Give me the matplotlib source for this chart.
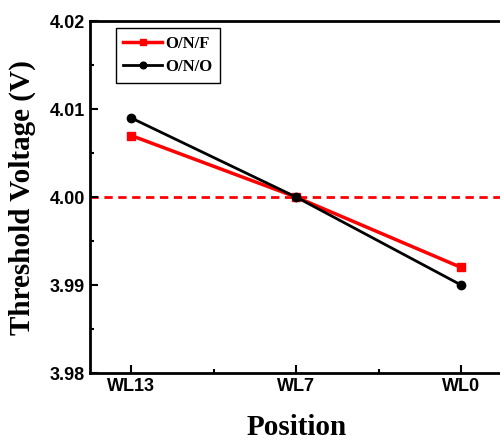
import matplotlib
matplotlib.use("Agg")
import matplotlib.pyplot as plt
from matplotlib.ticker import MultipleLocator, FormatStrFormatter

positions = ["WL13", "WL7", "WL0"]
onf = [4.007, 4.000, 3.992]
ono = [4.009, 4.000, 3.990]
ref_level = 4.00

fig = plt.figure(figsize=(5, 4.42), dpi=100)
ax = fig.add_axes([0.18, 0.156, 0.825, 0.796])

x = range(len(positions))
ax.axhline(ref_level, color="red", ls=(0, (3, 2)), lw=2, zorder=1)
ax.plot(x, onf, color="red", lw=2.5, marker="s", ms=6, label="O/N/F", zorder=2)
ax.plot(x, ono, color="black", lw=2, marker="o", ms=6, label="O/N/O", zorder=3)

ax.set_xlim(-0.25, 2.25)
ax.set_ylim(3.98, 4.02)
ax.set_xticks(list(x))
ax.set_xticklabels(positions)
ax.yaxis.set_major_locator(MultipleLocator(0.01))
ax.yaxis.set_minor_locator(MultipleLocator(0.005))
ax.xaxis.set_minor_locator(MultipleLocator(0.5))
ax.yaxis.set_major_formatter(FormatStrFormatter("%.2f"))

ax.tick_params(which="both", direction="in", top=False, right=False, width=1.5)
ax.tick_params(which="major", length=6)
ax.tick_params(which="minor", length=3)
for lab in ax.get_xticklabels() + ax.get_yticklabels():
    lab.set_fontfamily("Liberation Sans")
    lab.set_fontweight("bold")
    lab.set_fontsize(13)
for s in ax.spines.values():
    s.set_linewidth(2)

ax.set_xlabel("Position", fontfamily="Liberation Serif", fontweight="bold", fontsize=21, labelpad=14)
ax.set_ylabel("Threshold Voltage (V)", fontfamily="Liberation Serif", fontweight="bold", fontsize=21, labelpad=10)

leg = ax.legend(loc="upper left", bbox_to_anchor=(0.063, 0.98), borderaxespad=0,
                fancybox=False, edgecolor="black", framealpha=1, handlelength=2.3,
                markerscale=0.8,
                prop={"family": "Liberation Serif", "weight": "bold", "size": 12},
                borderpad=0.45, labelspacing=0.45, handletextpad=0.2)
leg.get_frame().set_linewidth(1)

fig.savefig("out.png", dpi=100)
